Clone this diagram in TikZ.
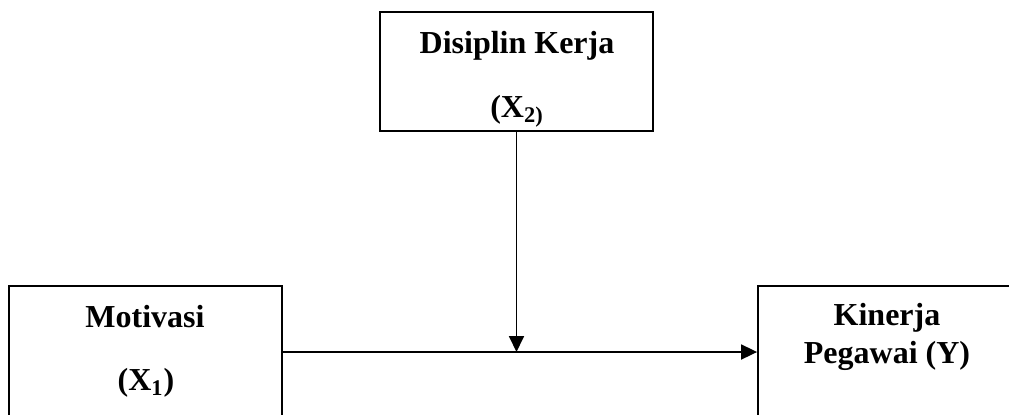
\documentclass[tikz,border=0pt]{standalone}
\usepackage{fontspec}
\setmainfont{Liberation Serif}
\usetikzlibrary{arrows.meta,positioning}

\tikzset{
	box/.style={draw,line width=0.9pt,minimum width=136.5pt,inner sep=0pt},
	caption/.style={font=\fontsize{16}{20}\selectfont\bfseries,anchor=base,inner sep=0pt}
}

\begin{document}
\begin{tikzpicture}[line join=miter,x=0.5pt,y=-0.5pt,>={Triangle[length=8pt,width=7.5pt]}]
	\clip (0,0) rectangle (1009,414);
	% boxes
	\node[box,minimum height=59.5pt] (disiplin) at (516.5,71.5) {};
	\node[box,minimum height=66pt] (motivasi) at (145.5,352) {};
	\node[box,minimum height=66pt] (kinerja) at (894.5,352) {};
	% texts
	\node[caption] (disiplinname) at (517,53) {Disiplin Kerja};
	\node[caption] (disiplinvar) at (517,117) {(X\textsubscript{2)}};
	\node[caption] (motivasiname) at (145,327) {Motivasi};
	\node[caption] (motivasivar) at (146,390) {(X\textsubscript{1})};
	\node[caption] (kinerjaname) at (887,325) {Kinerja};
	\node[caption] (kinerjavar) at (887,363) {Pegawai (Y)};
	% arrows
	\coordinate (meet) at (disiplin.south |- motivasi.east);
	\draw[line width=0.9pt,->] (motivasi.east) -- (kinerja.west);
	\draw[line width=0.9pt,->] (disiplin.south) -- (meet);
\end{tikzpicture}
\end{document}
